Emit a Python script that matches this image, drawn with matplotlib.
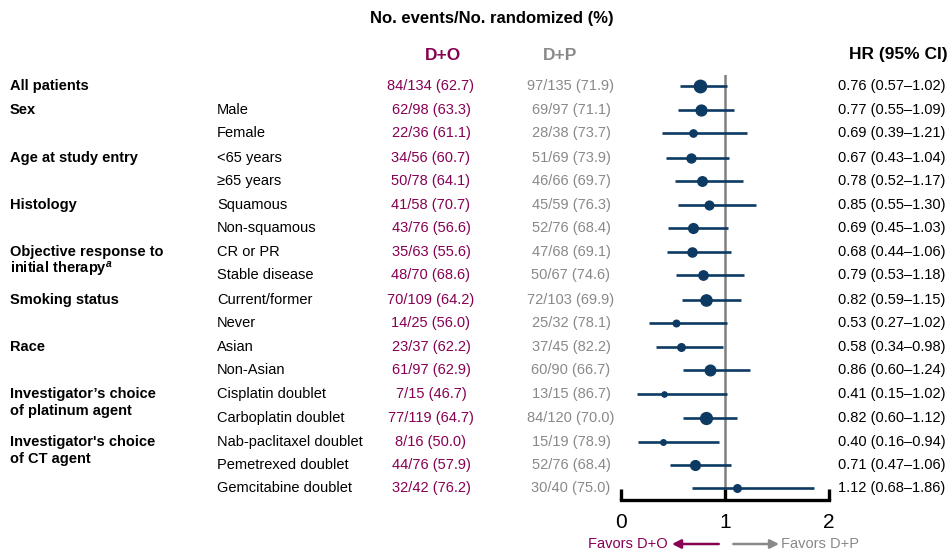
import numpy as np
import matplotlib
matplotlib.use("Agg")
import matplotlib.pyplot as plt
from matplotlib import transforms

plt.rcParams['font.family'] = ['Liberation Sans', 'DejaVu Sans']
plt.rcParams['mathtext.fontset'] = 'custom'
plt.rcParams['mathtext.it'] = 'Liberation Sans:italic:bold'
plt.rcParams['mathtext.rm'] = 'Liberation Sans:bold'

# data
groups = ["All patients", "Sex", "Age at study entry", "Histology",
          "Objective response to\ninitial therapy$^{a}$", "Smoking status", "Race",
          "Investigator\u2019s choice\nof platinum agent",
          "Investigator's choice\nof CT agent"]
group_sizes = [1, 2, 2, 2, 2, 2, 2, 2, 3]
subgroups = ["", "Male", "Female", "<65 years", "\u226565 years", "Squamous", "Non-squamous",
             "CR or PR", "Stable disease", "Current/former", "Never", "Asian", "Non-Asian",
             "Cisplatin doublet", "Carboplatin doublet", "Nab-paclitaxel doublet",
             "Pemetrexed doublet", "Gemcitabine doublet"]
do_events = [84, 62, 22, 34, 50, 41, 43, 35, 48, 70, 14, 23, 61, 7, 77, 8, 44, 32]
do_n = [134, 98, 36, 56, 78, 58, 76, 63, 70, 109, 25, 37, 97, 15, 119, 16, 76, 42]
dp_events = [97, 69, 28, 51, 46, 45, 52, 47, 50, 72, 25, 37, 60, 13, 84, 15, 52, 30]
dp_n = [135, 97, 38, 69, 66, 59, 76, 68, 67, 103, 32, 45, 90, 15, 120, 19, 76, 40]
hr = [0.76, 0.77, 0.69, 0.67, 0.78, 0.85, 0.69, 0.68, 0.79, 0.82, 0.53, 0.58, 0.86,
      0.41, 0.82, 0.40, 0.71, 1.12]
lo = [0.57, 0.55, 0.39, 0.43, 0.52, 0.55, 0.45, 0.44, 0.53, 0.59, 0.27, 0.34, 0.60,
      0.15, 0.60, 0.16, 0.47, 0.68]
hi = [1.02, 1.09, 1.21, 1.04, 1.17, 1.30, 1.03, 1.06, 1.18, 1.15, 1.02, 0.98, 1.24,
      1.02, 1.12, 0.94, 1.06, 1.86]

MAROON = "#870052"
GRAY = "#898989"
NAVY = "#0C3A63"

# row positions: small extra gap between groups
ypos = []
k = 0
for g, s in enumerate(group_sizes):
    for j in range(s):
        ypos.append(k + 0.05 * g)
        k += 1
ypos = np.array(ypos)

fig = plt.figure(figsize=(9.53, 5.52), dpi=100)
ax = fig.add_axes([621 / 953, (552 - 500) / 552, 208 / 953, 425 / 552])
ax.set_xlim(0, 2)
ax.set_ylim(ypos[-1] + 0.52, -0.476)

ax.axvline(1, color="#7f7f7f", lw=1.8, zorder=1)
tot_n = np.array(do_n) + np.array(dp_n)
sizes = (1.6 + 0.66 * np.sqrt(tot_n)) * 0.72
for i in range(len(hr)):
    ax.plot([lo[i], hi[i]], [ypos[i], ypos[i]], color=NAVY, lw=1.9, zorder=2,
            solid_capstyle="butt")
    ax.plot(hr[i], ypos[i], "o", color=NAVY, ms=sizes[i], mec=NAVY, zorder=3)

for s in ["top", "right", "left"]:
    ax.spines[s].set_visible(False)
ax.spines["bottom"].set_linewidth(2.4)
ax.set_yticks([])
ax.set_xticks([0, 1, 2])
ax.tick_params(axis="x", direction="in", length=8, width=2.4, labelsize=15, pad=9)

tr = transforms.blended_transform_factory(fig.transFigure, ax.transData)
fs = 10.5
line_gap = 17 / 23.1  # second line of a two-line group label
g_start = 0
for g, s in enumerate(group_sizes):
    for li, line in enumerate(groups[g].split("\n")):
        ax.text(10 / 953, ypos[g_start] + li * line_gap, line, transform=tr, fontsize=fs,
                fontweight="bold", va="center", ha="left")
    g_start += s

for i in range(len(hr)):
    y = ypos[i]
    ax.text(217 / 953, y, subgroups[i], transform=tr, fontsize=fs, va="center", ha="left")
    ax.text(431 / 953, y, f"{do_events[i]}/{do_n[i]} ({100 * do_events[i] / do_n[i]:.1f})",
            transform=tr, fontsize=fs, va="center", ha="center", color=MAROON)
    ax.text(571 / 953, y, f"{dp_events[i]}/{dp_n[i]} ({100 * dp_events[i] / dp_n[i]:.1f})",
            transform=tr, fontsize=fs, va="center", ha="center", color=GRAY)
    ax.text(838 / 953, y, f"{hr[i]:.2f} ({lo[i]:.2f}\u2013{hi[i]:.2f})",
            transform=tr, fontsize=fs, va="center", ha="left")

# headers
fig.text(492 / 953, 1 - 19 / 552, "No. events/No. randomized (%)", fontsize=12,
         fontweight="bold", ha="center", va="center")
fig.text(443 / 953, 1 - 55 / 552, "D+O", fontsize=12.5, fontweight="bold",
         ha="center", va="center", color=MAROON)
fig.text(560 / 953, 1 - 55 / 552, "D+P", fontsize=12.5, fontweight="bold",
         ha="center", va="center", color=GRAY)
fig.text(948 / 953, 1 - 55 / 552, "HR (95% CI)", fontsize=12.5, fontweight="bold",
         ha="right", va="center")

# favors arrows
tr2 = transforms.blended_transform_factory(ax.transData, fig.transFigure)
yb = 1 - 544 / 552
ax.annotate("", xy=(0.49, yb), xytext=(0.94, yb), xycoords=tr2, textcoords=tr2,
            arrowprops=dict(arrowstyle="-|>", color=MAROON, lw=1.8, mutation_scale=13,
                            shrinkA=0, shrinkB=0), annotation_clip=False)
ax.annotate("", xy=(1.52, yb), xytext=(1.08, yb), xycoords=tr2, textcoords=tr2,
            arrowprops=dict(arrowstyle="-|>", color=GRAY, lw=1.8, mutation_scale=13,
                            shrinkA=0, shrinkB=0), annotation_clip=False)
fig.text(668 / 953, yb, "Favors D+O", fontsize=fs, color=MAROON, ha="right", va="center")
fig.text(781 / 953, yb, "Favors D+P", fontsize=fs, color=GRAY, ha="left", va="center")

fig.savefig("out.png", dpi=100)
